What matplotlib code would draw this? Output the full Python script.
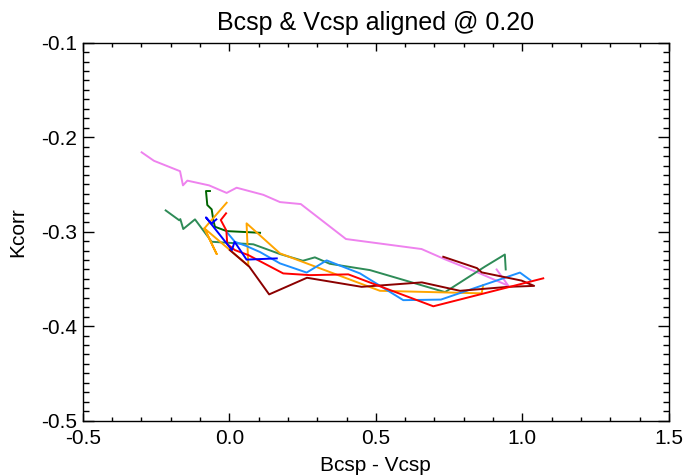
import matplotlib
matplotlib.use("Agg")
import matplotlib.pyplot as plt
from matplotlib.ticker import MultipleLocator

plt.rcParams["font.family"] = ["Liberation Sans", "DejaVu Sans"]

# Kcorr vs colour tracks, one per template
violet_x = [-0.299, -0.257, -0.168, -0.158, -0.143, -0.069, -0.009, 0.025, 0.116,
            0.173, 0.244, 0.398, 0.656, 0.736, 0.855, 0.952, 0.912]
violet_y = [-0.216, -0.225, -0.236, -0.251, -0.246, -0.251, -0.259, -0.2535, -0.261,
            -0.2687, -0.2708, -0.3078, -0.3184, -0.3293, -0.3442, -0.3573, -0.340]

seagreen_x = [-0.217, -0.1705, -0.167, -0.157, -0.117, -0.060, 0.082, 0.173, 0.251,
              0.292, 0.343, 0.480, 0.736, 0.872, 0.940, 0.943]
seagreen_y = [-0.2775, -0.288, -0.2867, -0.2972, -0.287, -0.3107, -0.3134, -0.3237,
              -0.3308, -0.3272, -0.334, -0.3407, -0.364, -0.337, -0.3242, -0.340]

darkgreen_x = [-0.066, -0.0795, -0.075, -0.060, -0.0546, -0.049, -0.009, 0.105]
darkgreen_y = [-0.257, -0.257, -0.2718, -0.2764, -0.2877, -0.2948, -0.2994, -0.3012]

orange_x = [-0.009, -0.085, -0.043, -0.085, 0.065, 0.059, 0.173, 0.514, 0.861, 0.866]
orange_y = [-0.2694, -0.2965, -0.3237, -0.2965, -0.336, -0.2912, -0.323, -0.3626,
            -0.3653, -0.3566]

dodger_x = [-0.007, 0.019, 0.059, 0.105, 0.173, 0.264, 0.332, 0.446, 0.5935, 0.722,
            0.9915, 1.027]
dodger_y = [-0.301, -0.3107, -0.3153, -0.3216, -0.3336, -0.3433, -0.3304, -0.3442,
            -0.3725, -0.3719, -0.3433, -0.3513]

darkred_x = [0.002, 0.068, 0.136, 0.265, 0.4515, 0.657, 0.787, 0.9515, 1.040, 0.997,
             0.861, 0.845, 0.730]
darkred_y = [-0.3195, -0.337, -0.3664, -0.3488, -0.3584, -0.3537, -0.3626, -0.3584,
             -0.3574, -0.3518, -0.3431, -0.3386, -0.3266]

red_x = [-0.011, -0.029, -0.010, -0.007, 0.019, 0.065, 0.184, 0.275, 0.406, 0.696, 1.071]
red_y = [-0.2806, -0.2877, -0.2988, -0.3131, -0.3195, -0.3248, -0.3442, -0.346,
         -0.3452, -0.379, -0.3494]

blue_x = [-0.044, -0.061, -0.0795, 0.009, 0.018, 0.059, 0.162]
blue_y = [-0.287, -0.2914, -0.2849, -0.3195, -0.3107, -0.3296, -0.3283]

tracks = [
    (violet_x, violet_y, "#EE82EE"),
    (seagreen_x, seagreen_y, "#2E8B57"),
    (darkgreen_x, darkgreen_y, "#006400"),
    (orange_x, orange_y, "#FFA500"),
    (dodger_x, dodger_y, "#1E90FF"),
    (darkred_x, darkred_y, "#8B0000"),
    (red_x, red_y, "#FF0000"),
    (blue_x, blue_y, "#0000FF"),
]

fig = plt.figure(figsize=(6.83, 4.75), dpi=100)
ax = fig.add_axes([0.1211, 0.1145, 0.8584, 0.7956])

for xs, ys, col in tracks:
    ax.plot(xs, ys, color=col, linewidth=1.4)

ax.set_xlim(-0.5, 1.5)
ax.set_ylim(-0.5, -0.1)
ax.xaxis.set_major_locator(MultipleLocator(0.5))
ax.xaxis.set_minor_locator(MultipleLocator(0.1))
ax.yaxis.set_major_locator(MultipleLocator(0.1))
ax.yaxis.set_minor_locator(MultipleLocator(0.01))
ax.xaxis.set_major_formatter(plt.FuncFormatter(lambda v, p: f"{v:.1f}"))
ax.yaxis.set_major_formatter(plt.FuncFormatter(lambda v, p: f"{v:.1f}"))

ax.tick_params(axis="both", which="both", direction="in", top=True, right=True,
               labelsize=15, colors="black")
ax.tick_params(axis="y", which="major", length=8, width=1.0, pad=4)
ax.tick_params(axis="y", which="minor", length=4.3, width=1.0)
ax.tick_params(axis="x", which="major", length=5.5, width=1.0, pad=6)
ax.tick_params(axis="x", which="minor", length=2.8, width=1.0)
for sp in ax.spines.values():
    sp.set_linewidth(1.0)

ax.set_title("Bcsp & Vcsp aligned @ 0.20", fontsize=18, pad=9)
ax.set_xlabel("Bcsp - Vcsp", fontsize=15, labelpad=6)
ax.set_ylabel("Kcorr", fontsize=15, labelpad=10)

fig.savefig("out.png", dpi=100)
